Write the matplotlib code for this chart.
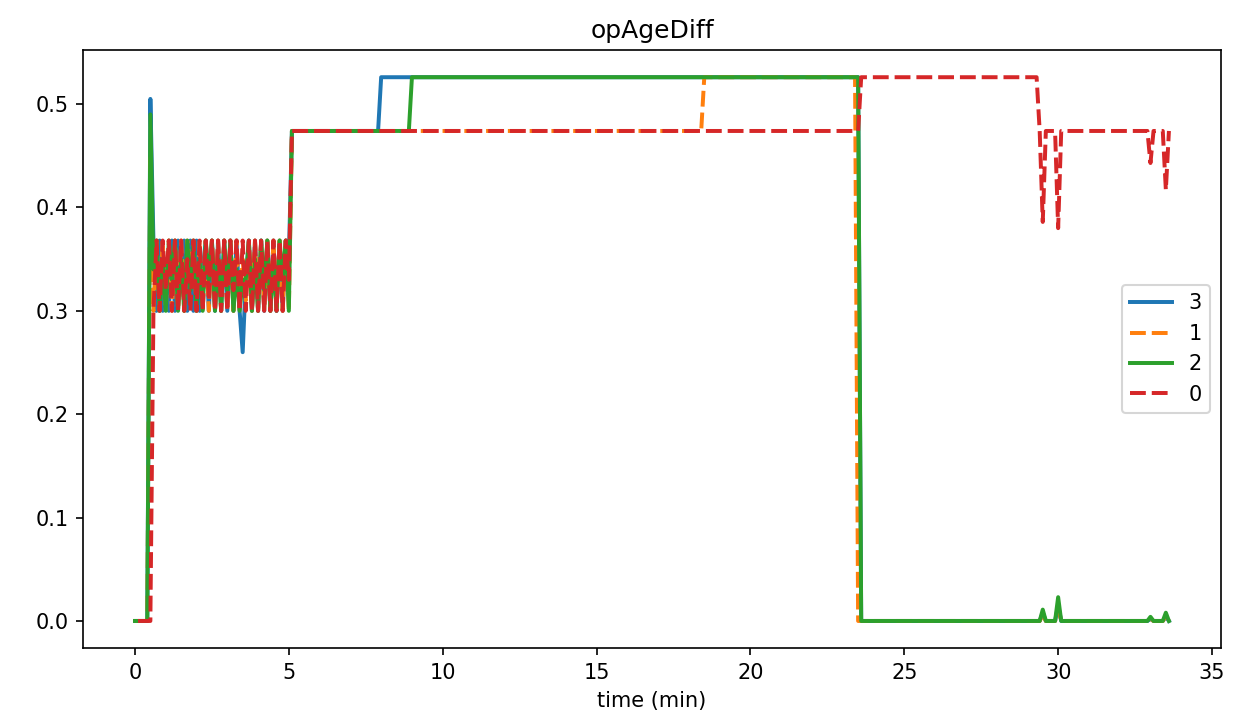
import matplotlib
matplotlib.use("Agg")
import matplotlib.pyplot as plt

# times (min) for the oscillating part, shared by all four series
osc_t = [0.6, 0.7, 0.8, 0.9, 1.0, 1.1, 1.2, 1.3, 1.4, 1.5,
         1.6, 1.7, 1.8, 1.9, 2.0, 2.1, 2.2, 2.3, 2.4, 2.5,
         2.6, 2.7, 2.8, 2.9, 3.0, 3.1, 3.2, 3.3, 3.4, 3.5,
         3.6, 3.7, 3.8, 3.9, 4.0, 4.1, 4.2, 4.3, 4.4, 4.5,
         4.6, 4.7, 4.8, 4.9, 5.0]

# series "3"
t3 = [0.0, 0.4, 0.5] + osc_t + [5.1, 7.9, 8.0, 23.5, 23.6, 29.4, 29.5, 29.6, 29.9, 30.0, 30.1,
                                32.9, 33.0, 33.1, 33.4, 33.5, 33.6]
v3 = [0.0, 0.0, 0.505,
      0.368, 0.30, 0.368, 0.30, 0.35, 0.30, 0.368, 0.30, 0.368, 0.32,
      0.368, 0.30, 0.368, 0.30, 0.368, 0.30, 0.34, 0.368, 0.30, 0.368,
      0.30, 0.368, 0.30, 0.368, 0.30, 0.368, 0.30, 0.368, 0.30, 0.26,
      0.33, 0.368, 0.30, 0.368, 0.30, 0.368, 0.30, 0.368, 0.30, 0.368,
      0.30, 0.368, 0.30, 0.368, 0.35,
      0.474, 0.474, 0.526, 0.526, 0.0, 0.0, 0.008, 0.0, 0.0, 0.015, 0.0,
      0.0, 0.002, 0.0, 0.0, 0.004, 0.0]

# series "1"
t1 = [0.0, 0.4, 0.5] + osc_t + [5.1, 18.4, 18.5, 23.4, 23.5, 29.4, 29.5, 29.6, 29.9, 30.0, 30.1,
                                32.9, 33.0, 33.1, 33.4, 33.5, 33.6]
v1 = [0.0, 0.0, 0.45,
      0.30, 0.368, 0.30, 0.368, 0.30, 0.368, 0.30, 0.368, 0.30, 0.368,
      0.30, 0.368, 0.34, 0.368, 0.30, 0.368, 0.30, 0.368, 0.30, 0.368,
      0.30, 0.368, 0.30, 0.368, 0.30, 0.368, 0.30, 0.368, 0.30, 0.35,
      0.31, 0.368, 0.30, 0.368, 0.30, 0.368, 0.30, 0.368, 0.30, 0.368,
      0.30, 0.368, 0.30, 0.368, 0.30,
      0.474, 0.474, 0.526, 0.526, 0.0, 0.0, 0.006, 0.0, 0.0, 0.012, 0.0,
      0.0, 0.002, 0.0, 0.0, 0.004, 0.0]

# series "2"
t2 = [0.0, 0.4, 0.5] + osc_t + [5.1, 8.9, 9.0, 23.5, 23.6, 29.4, 29.5, 29.6, 29.9, 30.0, 30.1,
                                32.9, 33.0, 33.1, 33.4, 33.5, 33.6]
v2 = [0.0, 0.0, 0.49,
      0.34, 0.368, 0.30, 0.35, 0.30, 0.368, 0.33, 0.368, 0.30, 0.35,
      0.30, 0.368, 0.32, 0.368, 0.30, 0.35, 0.30, 0.368, 0.33, 0.368,
      0.30, 0.35, 0.30, 0.368, 0.32, 0.368, 0.30, 0.34, 0.30, 0.33,
      0.33, 0.368, 0.30, 0.35, 0.30, 0.368, 0.32, 0.368, 0.30, 0.35,
      0.30, 0.368, 0.33, 0.368, 0.30,
      0.474, 0.474, 0.526, 0.526, 0.0, 0.0, 0.011, 0.0, 0.0, 0.023, 0.0,
      0.0, 0.004, 0.0, 0.0, 0.008, 0.0]

# series "0"
t0 = [0.1, 0.5] + osc_t + [5.1, 23.5, 23.6, 29.3, 29.4, 29.5, 29.6, 29.9, 30.0, 30.1,
                           32.9, 33.0, 33.1, 33.4, 33.5, 33.6]
v0 = [0.0, 0.0,
      0.30, 0.368, 0.30, 0.368, 0.32, 0.368, 0.30, 0.368, 0.30, 0.368,
      0.30, 0.35, 0.30, 0.368, 0.30, 0.368, 0.30, 0.368, 0.31, 0.368,
      0.30, 0.368, 0.30, 0.368, 0.30, 0.368, 0.32, 0.368, 0.30, 0.368,
      0.30, 0.368, 0.30, 0.368, 0.30, 0.368, 0.30, 0.368, 0.30, 0.368,
      0.30, 0.368, 0.30, 0.368, 0.33,
      0.474, 0.474, 0.526, 0.526, 0.474, 0.386, 0.474, 0.474, 0.38, 0.474,
      0.474, 0.443, 0.474, 0.474, 0.417, 0.474]

series = [("3", t3, v3, "#1f77b4", "-"),
          ("1", t1, v1, "#ff7f0e", "--"),
          ("2", t2, v2, "#2ca02c", "-"),
          ("0", t0, v0, "#d62728", "--")]

fig = plt.figure(figsize=(1243/150, 725/150), dpi=150)
ax = fig.add_subplot(111)
fig.subplots_adjust(left=0.067, right=0.982, top=0.931, bottom=0.106)

for name, t, v, c, ls in series:
    if ls == "--":
        ax.plot(t, v, color=c, lw=1.9, dashes=(4, 1.5), label=name)
    else:
        ax.plot(t, v, color=c, lw=1.9, label=name)

ax.set_title("opAgeDiff")
ax.set_xlabel("time (min)")
ax.legend(loc="center right")

fig.savefig("out.png", dpi=150)
